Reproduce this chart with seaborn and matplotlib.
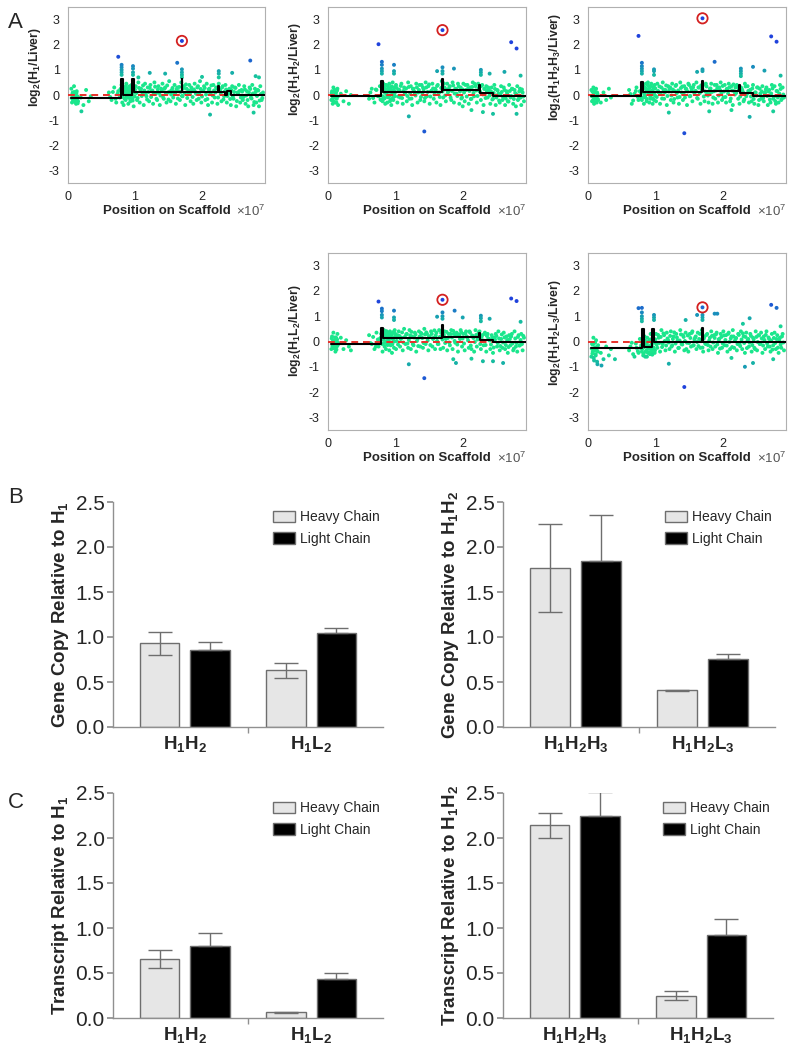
import pandas as pd
import matplotlib
matplotlib.use("Agg")
import matplotlib.pyplot as plt
import seaborn as sns
from matplotlib.colors import LinearSegmentedColormap

sns.set_theme(style="white")
plt.rcParams['font.family'] = ['Liberation Sans', 'DejaVu Sans']
plt.rcParams['mathtext.fontset'] = 'custom'
plt.rcParams['mathtext.rm'] = 'Liberation Sans'
plt.rcParams['mathtext.it'] = 'Liberation Sans:italic'
plt.rcParams['mathtext.bf'] = 'Liberation Sans:bold'
plt.rcParams['axes.unicode_minus'] = False

# ---- panel A data ----
# gene positions on the scaffold (units of 1e5 bp)
cloud_pos = [5, 6, 7, 8, 9, 10, 11, 12, 13, 14, 15,
             19, 23, 27, 31, 34,
             61, 65, 69, 72, 75, 77, 79,
             80, 81, 82, 83, 84, 85, 86, 87, 88, 89,
             90, 91, 92, 93, 94, 95, 96, 97, 98, 99,
             101, 103, 105, 107, 109, 111, 113, 115, 117, 119,
             121, 123, 125, 127, 129, 131, 133, 135, 137, 139,
             141, 143, 145, 147, 149, 151, 153, 155, 157, 159,
             161, 163, 165, 167, 169, 171, 173, 175, 177, 179,
             181, 183, 185, 187, 189, 191, 193, 195, 197, 199,
             201, 203, 205, 207, 209, 211, 213, 215, 217, 219,
             221, 223, 225, 227, 229, 231, 233, 235, 237, 239,
             241, 243, 245, 247, 249, 251, 253, 255, 257, 259,
             261, 263, 265, 267, 269, 271, 273, 275, 277, 279,
             281, 283, 285, 287, 289, 291]
cloud_pos2 = [5.5, 6.5, 7.5, 8.5, 9.5, 10.5, 11.5, 12.5, 13.5, 14.5,
              63, 67, 71, 74, 78,
              80.5, 81.5, 82.5, 83.5, 84.5, 85.5, 86.5, 87.5, 88.5, 89.5,
              90.5, 91.5, 92.5, 93.5, 94.5, 95.5, 96.5, 97.5, 98.5, 99.5,
              100, 102, 104, 106, 108, 110, 112, 114, 116, 118,
              120, 122, 124, 126, 128, 130, 132, 134, 136, 138,
              140, 142, 144, 146, 148, 150, 152, 154, 156, 158,
              160, 162, 164, 166, 168, 170, 172, 174, 176, 178,
              180, 182, 184, 186, 188, 190, 192, 194, 196, 198,
              200, 202, 204, 206, 208, 210, 212, 214, 216, 218,
              220, 222, 224, 226, 228, 230, 232, 234, 236, 238,
              240, 242, 244, 246, 248, 250, 252, 254, 256, 258,
              260, 262, 264, 266, 268, 270, 272, 274, 276, 278,
              280, 282, 284, 286, 288, 290]

# log2 ratios of the bulk genes (hundredths), first and second gene sets
h1_cloud = """25 -30 10 -15 35 -20 5 -35 15 -5 -25
-10 -40 20 -25 -5
10 -20 30 -30 15 -10 25
40 -30 20 -40 10 30 -20 45 -10 25
-35 15 35 -25 5 40 -15 30 -45 20
35 -20 50 -30 25 10 -40 45 -5 30
-25 40 15 -35 50 5 -20 35 -40 25
45 -15 30 -30 10 55 -25 20 -10 40
-35 30 15 -20 50 -5 35 -40 25 10
40 -25 20 -35 45 5 30 -15 55 -30
15 35 -20 45 -40 25 10 -30 40 -10
30 -35 45 20 -25 35 -5 40 -30 15
25 -40 35 -15 30 -45 10 40 -30 20
-20 35 -35 15 -45 30 -10 40 -40 25
-30 20 -45 35 -20 10"""
h1_cloud2 = """-12 3 -22 -8 12 -28 -2 8 -18 -33
-8 12 -15 5 22
12 -8 28 2 -15 18 35 -5 8 22
3 -12 18 28 -2 12 -22 8 32 -6
22 8 -12 28 15 -4 38 18 2 -18
12 28 -8 18 5 33 -15 22 8 -2
18 -10 25 8 38 -18 14 2 28 12
5 22 -14 32 12 -4 26 8 42 -12
18 4 30 -8 22 12 -20 35 6 24
-6 16 28 2 -16 22 10 38 -2 18
10 26 -10 18 4 30 -18 14 22 -4
6 -16 20 -6 12 28 -24 4 16 -10
14 -8 22 -2 -20 10 24 -14 6 -28
12 -4 18 -22 4 -12"""

h1h2_cloud = """-20 15 -35 30 -5 20 -30 10 -15 25 -40
5 -25 15 -35 0
-15 25 -30 20 -5 35 -20
30 -25 45 -15 20 -35 40 5 -30 35
-10 45 -25 25 -40 15 50 -20 30 -5
40 -30 20 -10 45 -35 30 10 -25 50
-15 35 -40 25 5 45 -30 20 -20 40
30 -25 50 -5 35 -35 15 45 -15 25
-30 40 10 -40 55 -10 30 -25 45 15
35 -20 50 -30 25 5 45 -35 30 -10
45 -25 20 40 -35 30 -15 50 -5 35
-30 45 15 -20 40 -40 25 35 -10 20
-35 30 -15 40 -40 20 5 -30 35 -20
30 -40 15 -25 40 -10 25 -35 20 -45
35 -15 25 -40 10 -25"""
h1h2_cloud2 = """8 -15 -2 -25 12 -10 2 -30 18 -6
10 -12 22 -4 -18
18 -5 30 12 -12 24 4 38 -8 16
26 -2 14 -18 34 8 -10 20 2 30
12 28 -6 20 36 -12 16 4 26 -4
32 8 -14 24 14 -2 30 10 40 -8
6 22 -12 30 12 42 -6 18 26 2
20 36 4 -8 28 14 46 -2 22 10
30 -10 16 38 6 24 -4 34 14 -14
22 10 40 -6 26 16 -16 32 8 44
18 -4 28 12 36 2 24 -12 16 30
-2 14 -18 8 24 -10 18 -22 4 12
-8 20 -14 6 -26 16 -4 24 -16 8
2 -20 14 -10 22 -6"""

h1h2h3_cloud = """20 -25 -5 30 -35 10 -15 25 -30 5 -20
-30 10 -20 25 -10
20 -35 5 30 -20 15 -10
-20 40 10 -35 30 -10 45 -25 20 50
35 -30 15 -15 45 5 -35 30 -20 40
-25 45 10 -35 30 50 -15 20 -40 35
25 -20 45 -30 15 40 -10 -35 50 10
-20 35 25 -40 45 -5 30 -25 40 15
50 -15 30 -35 20 40 -25 45 5 -30
25 45 -35 15 -15 40 -30 30 50 -20
-10 40 -30 25 45 -25 35 -40 15 30
40 -15 -35 30 20 -25 45 -5 35 -30
20 -25 40 -35 10 30 -40 25 -15 35
-25 10 30 -40 20 -30 40 -15 35 -35
15 -30 40 -20 30 -10"""
h1h2h3_cloud2 = """-4 14 -20 6 -12 22 -28 -6 10 -16
4 -22 16 -8 12
20 -10 34 6 -4 26 14 -16 40 8
12 28 -8 36 2 18 -14 30 10 -2
26 -8 16 34 4 -14 22 10 38 -4
14 30 -2 22 -16 36 8 18 -8 28
34 4 -10 24 14 40 -4 20 30 6
16 -12 30 8 38 22 -6 14 34 -2
4 26 12 -10 40 18 28 -2 20 8
36 14 -8 24 6 30 -14 18 42 2
8 32 20 -6 26 12 -18 34 4 16
18 -6 26 -16 10 -2 30 -20 6 14
-12 8 22 -4 14 -18 6 26 -8 -24
16 -10 6 24 -14 2"""

h1l2_cloud = """-30 20 -10 35 -25 5 -40 15 -20 30 -5
15 -30 5 -20 -35
25 -10 -30 35 -20 10 30
35 -40 15 45 -20 25 -30 40 -5 30
20 -35 40 -15 30 -45 10 35 -25 45
-30 25 40 -20 15 -35 50 -10 30 -25
45 -30 20 -15 35 -40 10 40 -20 30
-25 50 -10 30 -35 20 40 -20 15 -30
35 -10 45 -30 20 -25 40 10 -35 30
-15 45 -30 30 -5 35 -40 25 45 -20
30 -35 40 15 -25 35 -30 20 -40 45
-20 30 40 -30 25 -15 35 -40 30 10
-30 25 -45 15 30 -20 40 -35 10 -25
35 -30 20 -45 25 -15 30 -35 40 -20
-40 25 -15 30 -35 15"""
h1l2_cloud2 = """12 -18 4 -26 -10 16 -4 -32 8 -14
-6 18 -20 8 14
-10 24 6 32 -6 16 40 2 -14 22
8 34 -4 18 28 -12 12 38 0 20
30 2 -12 22 10 36 -4 18 28 -8
6 24 38 -10 16 28 2 -18 20 34
14 -6 28 36 4 20 -14 30 10 44
24 2 -10 18 34 8 26 -6 38 14
-4 30 16 42 2 22 -12 28 10 36
12 -8 32 20 4 40 -16 24 14 -2
26 8 36 -10 18 4 30 -14 22 12
4 -12 16 -24 8 22 -6 12 -18 28
-4 16 -14 6 -22 10 20 -8 -28 12
-6 18 -16 6 -10 22"""

h1h2l3_cloud = """-60 -10 -40 15 -75 -25 -50 5 -35 -90 -15
-45 -70 -20 -55 -30
-35 -5 -60 -25 -45 10 -15
-40 10 -55 -20 20 -60 -5 -35 15 -45
-25 5 -50 30 -15 -40 25 -30 10 -45
30 -25 15 -40 45 -10 25 -35 35 5
-30 40 -15 20 -40 30 5 -25 45 -10
25 -35 35 -5 -40 30 -20 40 -15 15
-30 35 10 -25 45 -40 20 -10 30 -35
15 40 -30 25 -20 35 -45 10 30 -25
40 -15 25 -40 35 -30 20 45 -25 10
-35 30 -10 40 -30 20 -45 35 5 -20
30 -40 15 -25 40 -35 25 -10 35 -45
20 -30 40 -20 10 -40 30 -15 35 -30
25 -45 15 -25 30 -35"""
h1h2l3_cloud2 = """-28 -48 -12 -65 -35 -5 -55 -22 -80 -40
-20 -50 -8 -38 -25
-30 -8 -48 -22 5 -40 -15 -60 -2 -28
-18 -42 8 -30 -10 -52 15 -24 -5 -35
8 -12 26 -6 18 -22 32 2 -16 12
-4 22 -20 10 36 -8 16 -26 4 28
-12 18 2 -30 24 -6 14 34 -16 8
20 -2 -18 30 6 -24 12 -8 26 -14
4 -20 22 -4 14 28 -12 8 -28 18
-8 24 6 -16 30 -2 12 -22 20 2
14 -10 26 -18 8 32 -6 18 -26 10
-4 22 -14 8 -30 18 -2 24 -10 12
-16 6 26 -8 16 -20 4 -32 14 -6
10 -24 6 -12 20 -4"""

# outlying genes (position in 1e7 bp, log2 ratio)
h1_out = [(0.75, 1.52), (1.63, 1.28), (2.72, 1.37), (1.22, 0.88),
          (0.80, 1.20), (0.80, 1.10), (0.80, 1.00), (0.80, 0.90), (0.80, 0.80),
          (0.97, 1.15), (0.97, 1.05), (0.97, 0.90), (0.97, 0.80),
          (1.70, 1.02), (1.70, 0.90), (1.70, 0.80), (1.70, 0.70),
          (2.25, 0.95), (2.25, 0.85), (2.25, 0.70), (2.45, 0.88), (2.12, -0.78),
          (2.80, 0.75), (2.85, 0.70), (1.45, 0.85), (2.00, 0.72), (1.05, 0.70),
          (2.77, -0.70), (0.20, -0.65)]
h1h2_out = [(0.75, 2.02), (2.72, 2.10), (2.80, 1.85), (1.43, -1.45), (1.20, -0.85),
            (0.80, 1.32), (0.80, 1.20), (0.80, 1.05), (0.80, 0.95), (0.80, 0.85),
            (0.98, 1.20), (0.98, 0.95), (0.98, 0.85), (1.87, 1.05), (1.62, 0.95),
            (1.70, 1.10), (1.70, 0.95), (1.70, 0.85), (2.27, 1.00), (2.27, 0.90),
            (2.27, 0.80), (2.40, 0.85), (2.62, 0.92), (2.86, 0.77), (2.13, -0.60),
            (2.30, -0.68), (2.45, -0.75), (2.80, -0.75), (2.00, -0.45)]
h1h2h3_out = [(0.75, 2.35), (2.72, 2.33), (2.80, 2.12), (1.43, -1.52), (1.88, 1.32),
              (1.20, -0.70), (0.80, 1.28), (0.80, 1.15), (0.80, 1.05), (0.80, 0.95),
              (0.80, 0.85), (0.98, 1.02), (0.98, 0.95), (0.98, 0.80), (1.62, 0.92),
              (1.70, 1.02), (1.70, 0.95), (2.27, 1.05), (2.27, 0.95), (2.27, 0.85),
              (2.27, 0.75), (2.45, 1.12), (2.62, 0.97), (2.86, 0.77), (2.40, -0.87),
              (2.13, -0.60), (1.80, -0.65), (2.75, -0.65)]
h1l2_out = [(0.75, 1.58), (2.72, 1.70), (2.80, 1.60), (1.43, -1.45), (1.20, -0.90),
            (0.80, 1.30), (0.80, 1.20), (0.80, 1.05), (0.80, 0.95), (0.98, 1.22),
            (0.98, 0.95), (0.98, 0.85), (1.62, 0.98), (1.70, 1.15), (1.70, 1.00),
            (1.70, 0.90), (1.88, 1.22), (2.00, 0.95), (2.27, 1.02), (2.27, 0.92),
            (2.27, 0.80), (2.40, 0.90), (2.86, 0.78), (2.13, -0.68), (1.86, -0.70),
            (2.30, -0.78), (2.45, -0.78), (2.60, -0.85), (1.90, -0.85)]
h1h2l3_out = [(0.75, 1.32), (0.80, 1.33), (2.72, 1.45), (2.80, 1.33), (1.43, -1.80),
              (1.20, -0.88), (0.80, 1.15), (0.80, 1.00), (0.80, 0.90), (0.80, 0.80),
              (0.98, 1.05), (0.98, 0.95), (0.98, 0.85), (1.62, 1.05), (1.70, 1.05),
              (1.70, 0.95), (1.70, 0.85), (1.88, 1.10), (1.92, 1.10), (1.45, 0.85),
              (2.30, 0.70), (2.40, 0.92), (2.86, 0.60), (2.13, -0.65), (2.33, -1.00),
              (2.45, -0.85), (2.75, -0.70), (0.20, -0.95), (0.40, -0.70)]

# circled gene
h1_peak = (1.70, 2.15)
h1h2_peak = (1.70, 2.58)
h1h2h3_peak = (1.70, 3.05)
h1l2_peak = (1.70, 1.65)
h1h2l3_peak = (1.70, 1.35)

# copy number segments: edges (1e7 bp) and levels
h1_edges = [0.05, 0.79, 0.82, 0.96, 0.985, 1.695, 1.705, 2.24, 2.26, 2.35, 2.38, 2.44, 2.94]
h1_levels = [-0.10, 0.65, 0.00, 0.65, 0.13, 0.65, 0.13, 0.35, 0.10, 0.00, 0.15, 0.00]
trip_edges = [0.05, 0.79, 0.82, 1.695, 1.705, 2.245, 2.255, 2.45, 2.94]
h1h2_levels = [-0.05, 0.55, 0.12, 0.65, 0.18, 0.38, 0.08, -0.02]
h1h2h3_levels = [-0.05, 0.50, 0.12, 0.55, 0.15, 0.40, 0.08, -0.03]
h1l2_levels = [-0.08, 0.55, 0.12, 0.65, 0.17, 0.35, 0.07, -0.03]
h1h2l3_edges = [0.05, 0.80, 0.825, 0.955, 0.975, 1.695, 1.705, 2.94]
h1h2l3_levels = [-0.25, 0.50, -0.20, 0.50, 0.00, 0.55, 0.00]

# ---- panels B and C data ----
chains = ["Heavy Chain", "Light Chain"]
two_groups = [r"H$_\mathbf{1}$H$_\mathbf{2}$", r"H$_\mathbf{1}$L$_\mathbf{2}$"]
three_groups = [r"H$_\mathbf{1}$H$_\mathbf{2}$H$_\mathbf{3}$", r"H$_\mathbf{1}$H$_\mathbf{2}$L$_\mathbf{3}$"]

gene_heavy = [0.93, 0.63]
gene_heavy_err = [0.13, 0.08]
gene_light = [0.86, 1.05]
gene_light_err = [0.08, 0.045]
gene3_heavy = [1.77, 0.41]
gene3_heavy_err = [0.49, 0.006]
gene3_light = [1.85, 0.76]
gene3_light_err = [0.50, 0.05]

tx_heavy = [0.66, 0.066]
tx_heavy_err = [0.10, 0.005]
tx_light = [0.80, 0.43]
tx_light_err = [0.15, 0.065]
tx3_heavy = [2.14, 0.245]
tx3_heavy_err = [0.135, 0.05]
tx3_light = [2.25, 0.92]
tx3_light_err = [0.26, 0.18]

dot_cmap = LinearSegmentedColormap.from_list(
    "dots", [(0, "#1ae68c"), (0.3, "#1ae68c"), (0.5, "#16b9a2"),
             (0.75, "#1a80c4"), (1, "#1f42dc")])

fig = plt.figure(figsize=(7.96, 10.5), dpi=100)


def px_axes(l, t, r, b):
    return fig.add_axes([l / 796, 1 - b / 1050, (r - l) / 796, (b - t) / 1050])


def parse(cloud):
    return [int(v) / 100 for v in cloud.split()]


def scatter_panel(ax, clouds, outliers, peak, edges, levels, ylabel, label_y):
    xs, ys = [], []
    for pos, cloud in zip([cloud_pos, cloud_pos2], clouds):
        vals = parse(cloud)
        n = min(len(pos), len(vals))
        xs += [p / 100 for p in pos[:n]]
        ys += vals[:n]
    xs += [o[0] for o in outliers] + [peak[0]]
    ys += [o[1] for o in outliers] + [peak[1]]
    df = pd.DataFrame({"pos": xs, "ratio": ys})
    df["mag"] = df["ratio"].abs()
    sns.scatterplot(data=df, x="pos", y="ratio", hue="mag", palette=dot_cmap,
                    hue_norm=(0, 1.6), s=8, linewidth=0, legend=False, ax=ax, zorder=2)
    ax.axhline(0, color="#e8302a", ls=(0, (3.5, 2.5)), lw=1.4, zorder=3)
    seg = pd.DataFrame({"pos": edges, "level": levels + [levels[-1]]})
    sns.lineplot(data=seg, x="pos", y="level", drawstyle="steps-post", color="black",
                 lw=1.5, estimator=None, sort=False, ax=ax, zorder=4)
    ax.scatter([peak[0]], [peak[1]], s=55, facecolors="none", edgecolors="#d42020",
               linewidths=1.3, zorder=5)
    ax.set_xlim(0, 2.94)
    ax.set_ylim(-3.5, 3.5)
    ax.set_xticks([0, 1, 2])
    ax.set_yticks([-3, -2, -1, 0, 1, 2, 3])
    ax.tick_params(direction="in", length=3, color="#a0a0a0", labelsize=9,
                   labelcolor="#222222", pad=6)
    for sp in ax.spines.values():
        sp.set_color("#b0b0b0")
        sp.set_linewidth(0.8)
    ax.set_ylabel(ylabel, fontsize=8.8)
    ax.yaxis.set_label_coords(-0.125, label_y)
    ax.set_xlabel("Position on Scaffold", fontsize=9.5, fontweight="bold", labelpad=1)
    ax.text(1.0, -0.118, r"$\times10^7$", transform=ax.transAxes, ha="right",
            va="top", fontsize=9.5, color="#555555")


def bar_panel(ax, groups, heavy, heavy_err, light, light_err, ylabel):
    df = pd.DataFrame({
        "group": groups * 2,
        "chain": [chains[0]] * 2 + [chains[1]] * 2,
        "value": heavy + light,
    })
    sns.barplot(data=df, x="group", y="value", hue="chain", order=groups,
                hue_order=chains, palette=["#e6e6e6", "black"], width=0.8, gap=0.22,
                edgecolor="#6e6e6e", linewidth=1, errorbar=None, ax=ax)
    for cont, errs, lower in zip(ax.containers, [heavy_err, light_err], [True, False]):
        for bar, e in zip(cont, errs):
            xc = bar.get_x() + bar.get_width() / 2
            h = bar.get_height()
            ax.errorbar([xc], [h], yerr=[[e if lower else 0], [e]], color="#6e6e6e",
                        lw=1, capsize=8.5, capthick=1, zorder=4)
    ax.set_xlim(-0.57, 1.57)
    ax.set_ylim(0, 2.5)
    ax.set_yticks([0, 0.5, 1.0, 1.5, 2.0, 2.5])
    ax.set_yticklabels(["0.0", "0.5", "1.0", "1.5", "2.0", "2.5"])
    ax.set_xticks([0.5], minor=True)
    ax.tick_params(axis="y", direction="out", length=4, color="#909090", labelsize=15,
                   left=True, pad=2)
    ax.tick_params(axis="x", which="major", length=0, labelsize=13.5, pad=5)
    ax.tick_params(axis="x", which="minor", direction="out", length=4, color="#909090",
                   bottom=True)
    for lab in ax.get_xticklabels():
        lab.set_fontweight("bold")
    for side in ["top", "right"]:
        ax.spines[side].set_visible(False)
    for side in ["left", "bottom"]:
        ax.spines[side].set_color("#909090")
        ax.spines[side].set_linewidth(1)
    ax.set_xlabel("")
    ax.set_ylabel(ylabel, fontsize=13.5, fontweight="bold", labelpad=3)
    ax.legend(title=None, frameon=False, loc="upper right", bbox_to_anchor=(1.02, 1.0),
              fontsize=10, handlelength=1.6, handleheight=0.9, labelspacing=0.55,
              handletextpad=0.4, borderaxespad=0.2)


a1 = px_axes(68, 7, 265, 183)
a2 = px_axes(328, 7, 526, 183)
a3 = px_axes(588, 7, 786, 183)
a4 = px_axes(328, 253, 526, 430)
a5 = px_axes(588, 253, 786, 430)

scatter_panel(a1, [h1_cloud, h1_cloud2], h1_out, h1_peak, h1_edges, h1_levels,
              r"$\mathbf{log_2(H_1/Liver)}$", 0.66)
scatter_panel(a2, [h1h2_cloud, h1h2_cloud2], h1h2_out, h1h2_peak, trip_edges,
              h1h2_levels, r"$\mathbf{log_2(H_1H_2/Liver)}$", 0.65)
scatter_panel(a3, [h1h2h3_cloud, h1h2h3_cloud2], h1h2h3_out, h1h2h3_peak, trip_edges,
              h1h2h3_levels, r"$\mathbf{log_2(H_1H_2H_3/Liver)}$", 0.66)
scatter_panel(a4, [h1l2_cloud, h1l2_cloud2], h1l2_out, h1l2_peak, trip_edges,
              h1l2_levels, r"$\mathbf{log_2(H_1L_2/Liver)}$", 0.56)
scatter_panel(a5, [h1h2l3_cloud, h1h2l3_cloud2], h1h2l3_out, h1h2l3_peak, h1h2l3_edges,
              h1h2l3_levels, r"$\mathbf{log_2(H_1H_2L_3/Liver)}$", 0.55)

b1 = px_axes(113, 502, 383, 727)
b2 = px_axes(503, 502, 775, 727)
c1 = px_axes(113, 793, 383, 1018)
c2 = px_axes(503, 793, 773, 1018)

bar_panel(b1, two_groups, gene_heavy, gene_heavy_err, gene_light, gene_light_err,
          r"Gene Copy Relative to H$_\mathbf{1}$")
bar_panel(b2, three_groups, gene3_heavy, gene3_heavy_err, gene3_light, gene3_light_err,
          r"Gene Copy Relative to H$_\mathbf{1}$H$_\mathbf{2}$")
bar_panel(c1, two_groups, tx_heavy, tx_heavy_err, tx_light, tx_light_err,
          r"Transcript Relative to H$_\mathbf{1}$")
bar_panel(c2, three_groups, tx3_heavy, tx3_heavy_err, tx3_light, tx3_light_err,
          r"Transcript Relative to H$_\mathbf{1}$H$_\mathbf{2}$")

fig.text(8 / 796, 1 - 12 / 1050, "A", fontsize=16, va="top", ha="left")
fig.text(8 / 796, 1 - 487 / 1050, "B", fontsize=16, va="top", ha="left")
fig.text(8 / 796, 1 - 792 / 1050, "C", fontsize=16, va="top", ha="left")

fig.savefig("out.png", dpi=100)
